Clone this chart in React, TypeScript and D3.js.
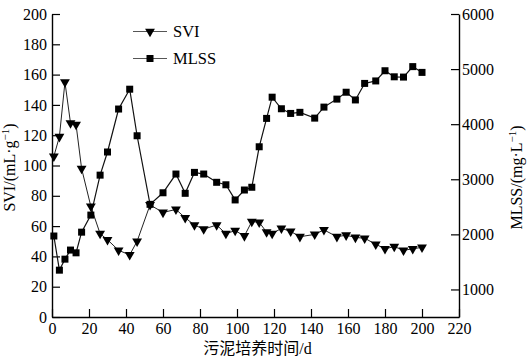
import * as d3 from 'd3';
import React, { useEffect, useRef } from 'react';

const days = [1, 4, 7, 10, 13, 16, 21, 26, 30, 36, 42, 46, 53, 60, 67, 72, 77, 82, 89, 94, 99, 104, 108, 112, 116, 119, 124, 129, 134, 142, 147, 154, 159, 164, 169, 175, 180, 185, 190, 195, 200];

const svi = [106, 119, 155, 128, 127, 98, 73, 55, 51, 44, 41, 50, 74, 69, 71, 65.5, 60.7, 58, 60.7, 55, 57, 53.5, 63, 62.5, 56, 55, 58.5, 56.5, 53, 54.5, 57.5, 53, 54, 52.5, 52, 48, 45, 46.5, 44, 45, 46];

const mlss = [1970, 1350, 1550, 1715, 1665, 2040, 2350, 3075, 3495, 4275, 4635, 3790, 2545, 2755, 3095, 2745, 3125, 3095, 2945, 2900, 2625, 2805, 2855, 3590, 4105, 4490, 4280, 4195, 4215, 4110, 4310, 4455, 4580, 4440, 4740, 4785, 4970, 4860, 4855, 5045, 4940];

const xTicks = d3.range(0, 221, 20);
const leftTicks = d3.range(0, 201, 20);
const rightTicks = [1000, 2000, 3000, 4000, 5000, 6000];

const W = 529, H = 359;
const margin = { top: 14, right: 70, bottom: 42, left: 52 };

export default function App() {
  const ref = useRef<SVGSVGElement>(null);

  useEffect(() => {
    const svg = d3.select(ref.current);
    svg.selectAll('*').remove();

    const x = d3.scaleLinear().domain([0, 220]).range([margin.left, W - margin.right]);
    const yL = d3.scaleLinear().domain([0, 200]).range([H - margin.bottom, margin.top]);
    const yR = d3.scaleLinear().domain([500, 6000]).range([H - margin.bottom, margin.top]);

    const font = '"Liberation Serif", "Times New Roman", serif';

    const styleAxis = (g) => {
      g.select('.domain').attr('stroke', '#000').attr('stroke-width', 1.4);
      g.selectAll('.tick line').attr('stroke', '#000').attr('stroke-width', 1.2);
      g.selectAll('.tick text').attr('font-family', font).attr('font-size', 16).attr('fill', '#000');
    };

    svg.append('g')
      .attr('transform', `translate(0,${H - margin.bottom})`)
      .call(d3.axisBottom(x).tickValues(xTicks).tickSize(-8).tickSizeOuter(0).tickPadding(6))
      .call(styleAxis);

    svg.append('g')
      .attr('transform', `translate(${margin.left},0)`)
      .call(d3.axisLeft(yL).tickValues(leftTicks).tickSize(-8).tickSizeOuter(0).tickPadding(5))
      .call(styleAxis);

    svg.append('g')
      .attr('transform', `translate(${W - margin.right},0)`)
      .call(d3.axisRight(yR).tickValues(rightTicks).tickFormat(d3.format('d')).tickSize(-8).tickSizeOuter(0).tickPadding(3))
      .call(styleAxis);

    const sviLine = d3.line<number>().x((d, i) => x(days[i])).y(d => yL(d));
    const mlssLine = d3.line<number>().x((d, i) => x(days[i])).y(d => yR(d));

    svg.append('path').datum(svi).attr('d', sviLine)
      .attr('fill', 'none').attr('stroke', '#222').attr('stroke-width', 1);
    svg.append('path').datum(mlss).attr('d', mlssLine)
      .attr('fill', 'none').attr('stroke', '#111').attr('stroke-width', 1.2);

    const tri = d3.symbol().type(d3.symbolTriangle).size(42)();

    svg.append('g').selectAll('path').data(svi).join('path')
      .attr('d', tri)
      .attr('transform', (d, i) => `translate(${x(days[i])},${yL(d)}) rotate(180)`)
      .attr('fill', '#000');

    svg.append('g').selectAll('rect').data(mlss).join('rect')
      .attr('x', (d, i) => x(days[i]) - 3.5)
      .attr('y', d => yR(d) - 3.5)
      .attr('width', 7).attr('height', 7)
      .attr('fill', '#000');

    // legend
    const lg = svg.append('g').attr('font-family', font).attr('font-size', 16.5);
    const items = [{ name: 'SVI', y: 31.5 }, { name: 'MLSS', y: 58.5 }];
    items.forEach((it, k) => {
      lg.append('line').attr('x1', 133).attr('x2', 167).attr('y1', it.y).attr('y2', it.y)
        .attr('stroke', '#555').attr('stroke-width', 1);
      if (k === 0) {
        lg.append('path').attr('d', tri).attr('transform', `translate(150,${it.y}) rotate(180)`).attr('fill', '#000');
      } else {
        lg.append('rect').attr('x', 146.5).attr('y', it.y - 3.5).attr('width', 7).attr('height', 7).attr('fill', '#000');
      }
      lg.append('text').attr('x', 173).attr('y', it.y).attr('dy', '0.35em').text(it.name);
    });

    // axis titles
    const lt = svg.append('text')
      .attr('transform', `translate(15,${(margin.top + H - margin.bottom) / 2 + 2}) rotate(-90)`)
      .attr('text-anchor', 'middle').attr('font-family', font).attr('font-size', 16);
    lt.append('tspan').text('SVI/(mL·g');
    lt.append('tspan').attr('dy', -6).attr('font-size', 11).text('−1');
    lt.append('tspan').attr('dy', 6).text(')');

    const rt = svg.append('text')
      .attr('transform', `translate(522,${(margin.top + H - margin.bottom) / 2 + 12}) rotate(-90)`)
      .attr('text-anchor', 'middle').attr('font-family', font).attr('font-size', 16);
    rt.append('tspan').text('MLSS/(mg·L');
    rt.append('tspan').attr('dy', -6).attr('font-size', 11).text('−1');
    rt.append('tspan').attr('dy', 6).text(')');

    svg.append('text')
      .attr('x', (margin.left + W - margin.right) / 2 + 2).attr('y', 354)
      .attr('text-anchor', 'middle')
      .attr('font-family', '"Liberation Serif", "Noto Sans CJK SC", serif')
      .attr('font-size', 16)
      .text('污泥培养时间/d');
  }, []);

  return (
    <div style={{ position: 'fixed', left: 0, top: 0 }}>
      <svg ref={ref} width={W} height={H} style={{ display: 'block', background: '#fff' }} />
    </div>
  );
}
